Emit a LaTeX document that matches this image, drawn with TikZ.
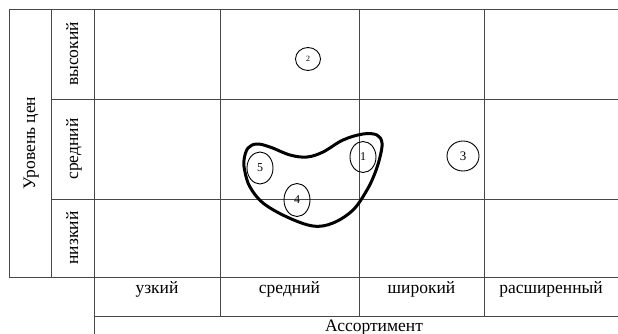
\documentclass[tikz,border=0pt]{standalone}
\usepackage{fontspec}
\setmainfont{Liberation Serif}
\usetikzlibrary{shapes.geometric}
\begin{document}
\begin{tikzpicture}[x=1pt,y=-1pt,
  grid/.style={draw=black!72, line width=0.9pt},
  lab/.style={font=\fontsize{17.5}{20}\selectfont, inner sep=0pt, anchor=base},
  vlab/.style={lab, rotate=90},
  num/.style={draw=black, line width=0.9pt, ellipse, inner sep=0pt, font=\fontsize{12}{14}\selectfont},
  blob/.style={draw=black, line width=3pt, line join=round}]
\useasboundingbox (0,0) rectangle (618,334);
% grid
\draw[grid] (9,9) -- (618,9);
\draw[grid] (51,99) -- (618,99);
\draw[grid] (51,199) -- (618,199);
\draw[grid] (9,277) -- (618,277);
\draw[grid] (94,316) -- (618,316);
\draw[grid] (9,9) -- (9,277);
\draw[grid] (51,9) -- (51,277);
\draw[grid] (94,9) -- (94,334);
\draw[grid] (220,9) -- (220,316);
\draw[grid] (359,9) -- (359,316);
\draw[grid] (484,9) -- (484,316);
% labels
\node[vlab] (yl) at (35,143) {Уровень цен};
\node[vlab] (rh) at (78,54) {высокий};
\node[vlab] (rm) at (78,149) {средний};
\node[vlab] (rl) at (78,238) {низкий};
\node[lab] (c1) at (157,293) {узкий};
\node[lab] (c2) at (289.5,293) {средний};
\node[lab] (c3) at (421.5,293) {широкий};
\node[lab] (c4) at (551,293) {расширенный};
\node[lab] (xl) at (374,331) {Ассортимент};
% blob
\draw[blob] plot[smooth cycle, tension=0.6] coordinates {
 (257,144) (248,148) (244,160) (245,172) (250,187) (263,203) (287,217)
 (313,226) (333,223) (353,210) (367,190) (375,173) (380,157) (382,143)
 (377,135) (363,134) (343,140) (323,152) (307,157) (290,155) (270,147)};
% circles
\node[num, minimum width=25pt, minimum height=23pt, font=\fontsize{8}{9}\selectfont] (n2) at (308,59) {2};
\node[num, minimum width=26pt, minimum height=31pt] (n1) at (363,157) {1};
\node[num, minimum width=32pt, minimum height=30pt, font=\fontsize{13}{15}\selectfont] (n3) at (463,156) {3};
\node[num, minimum width=26pt, minimum height=32pt] (n5) at (260,168) {5};
\node[num, minimum width=26pt, minimum height=33pt] (n4) at (297,200) {4};
\end{tikzpicture}
\end{document}
